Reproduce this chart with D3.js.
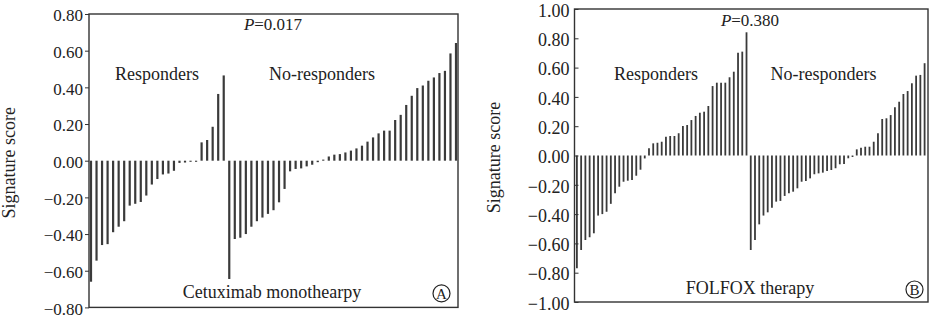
<!DOCTYPE html>
<html>
<head>
<meta charset="utf-8">
<script src="https://cdn.jsdelivr.net/npm/d3@7/dist/d3.min.js"></script>
<style>
    body { margin: 0; background: #fff; }
    svg { display: block; }
    text { font-family: "Liberation Serif", "Times New Roman", serif; fill: #222; }
</style>
</head>
<body>
<div id="chart"></div>
<script>
// panel A: cetuximab monotherapy
const respondersA = [-0.66, -0.545, -0.46, -0.455, -0.39, -0.36, -0.33, -0.245, -0.235, -0.225,
    -0.19, -0.13, -0.10, -0.075, -0.07, -0.055, -0.012, -0.010, -0.006, -0.006,
    0.10, 0.113, 0.185, 0.364, 0.465];
const nonRespondersA = [-0.645, -0.427, -0.42, -0.40, -0.36, -0.33, -0.31, -0.29, -0.27, -0.227,
    -0.154, -0.058, -0.045, -0.042, -0.031, -0.022, -0.008, 0.006,
    0.023, 0.033, 0.036, 0.045, 0.055, 0.067, 0.082, 0.104, 0.127, 0.149,
    0.164, 0.164, 0.222, 0.25, 0.304, 0.354, 0.396, 0.41, 0.436, 0.454,
    0.478, 0.49, 0.585, 0.642];
const ticksA = [-0.8, -0.6, -0.4, -0.2, 0, 0.2, 0.4, 0.6, 0.8];

// panel B: FOLFOX
const respondersB = [-0.77, -0.645, -0.577, -0.558, -0.531, -0.41, -0.40, -0.384, -0.33, -0.258,
    -0.213, -0.179, -0.172, -0.167, -0.138, -0.097, -0.02,
    0.049, 0.083, 0.087, 0.094, 0.128, 0.133, 0.133, 0.152, 0.201, 0.208,
    0.242, 0.27, 0.292, 0.299, 0.338, 0.474, 0.497, 0.497, 0.497, 0.534,
    0.572, 0.702, 0.709, 0.841];
const nonRespondersB = [-0.645, -0.577, -0.47, -0.41, -0.388, -0.356, -0.315, -0.31, -0.276, -0.258,
    -0.247, -0.224, -0.179, -0.174, -0.156, -0.128, -0.122, -0.117, -0.106, -0.099,
    -0.087, -0.06, -0.058, -0.019, -0.01,
    0.042, 0.053, 0.06, 0.06, 0.094, 0.152, 0.249, 0.254, 0.276, 0.329,
    0.367, 0.42, 0.44, 0.493, 0.545, 0.55, 0.63];
const ticksB = [-1, -0.8, -0.6, -0.4, -0.2, 0, 0.2, 0.4, 0.6, 0.8, 1];

class WaterfallPanel {
    constructor(svg, configs = {}) {
        let defaultConfig = {
            left: 0, top: 0, width: 300, height: 290,
            padLeft: 2, padRight: 2,
            barWidth: 2,
            tickSize: 4,
            fontSize: 17,
            groupY: 66
        };
        this.config = Object.assign({}, defaultConfig, configs);
        this.svg = svg;
        this.draw();
    }

    generateRange() {
        let c = this.config;
        this.values = c.responders.concat(c.nonResponders);
        this.xRange = d3.scalePoint()
            .domain(d3.range(this.values.length))
            .range([c.padLeft, c.width - c.padRight]);
        this.yRange = d3.scaleLinear()
            .domain(d3.extent(c.ticks))
            .range([c.height, 0]);
    }

    generateContainer() {
        let c = this.config;
        this.element = this.svg.append("g")
            .attr("transform", "translate(" + c.left + "," + c.top + ")");
    }

    drawAxis() {
        let c = this.config;
        let axis = this.element.append("g")
            .call(d3.axisLeft(this.yRange)
                .tickValues(c.ticks)
                .tickFormat(d3.format(".2f"))
                .tickSize(c.tickSize)
                .tickSizeOuter(0)
                .tickPadding(c.tickSize > 0 ? 2 : 5));
        axis.select(".domain").remove();
        axis.selectAll("line").attr("stroke", "#333");
        axis.selectAll("text")
            .attr("font-family", "Liberation Serif, Times New Roman, serif")
            .attr("font-size", c.fontSize)
            .attr("fill", "#222")
            .attr("dy", "0.4em");

        this.element.append("rect")
            .attr("width", c.width)
            .attr("height", c.height)
            .attr("fill", "none")
            .attr("stroke", "#333")
            .attr("stroke-width", 1.4);

        this.element.append("text")
            .attr("transform", "translate(" + c.titleX + "," + (c.height / 2 + 2) + ") rotate(-90)")
            .attr("text-anchor", "middle")
            .attr("font-size", 18)
            .text("Signature score");
    }

    drawBars() {
        let c = this.config;
        let y0 = this.yRange(0);
        this.element.append("g")
            .selectAll("line")
            .data(this.values)
            .enter()
            .append("line")
            .attr("x1", (d, i) => this.xRange(i))
            .attr("x2", (d, i) => this.xRange(i))
            .attr("y1", y0)
            .attr("y2", d => this.yRange(d))
            .attr("stroke", "#3a3a3a")
            .attr("stroke-width", c.barWidth);
    }

    drawLabels() {
        let c = this.config;
        let g = this.element;
        let pText = g.append("text")
            .attr("x", c.pX)
            .attr("y", c.pY)
            .attr("text-anchor", "middle")
            .attr("font-size", 17);
        pText.append("tspan").attr("font-style", "italic").text("P");
        pText.append("tspan").text("=" + c.pValue);

        g.append("text")
            .attr("x", c.respX)
            .attr("y", c.groupY)
            .attr("text-anchor", "middle")
            .attr("font-size", 18)
            .text("Responders");

        g.append("text")
            .attr("x", c.nonX)
            .attr("y", c.groupY)
            .attr("text-anchor", "middle")
            .attr("font-size", 18)
            .text("No-responders");

        g.append("text")
            .attr("x", c.therapyX)
            .attr("y", c.height - c.therapyOffset)
            .attr("text-anchor", "middle")
            .attr("font-size", 18)
            .text(c.therapy);

        let badge = g.append("g")
            .attr("transform", "translate(" + (c.width - c.badgeRight) + "," + (c.height - c.badgeBottom) + ")");
        badge.append("circle")
            .attr("r", 8.5)
            .attr("fill", "none")
            .attr("stroke", "#222")
            .attr("stroke-width", 1.2);
        badge.append("text")
            .attr("text-anchor", "middle")
            .attr("dy", "0.36em")
            .attr("font-size", 15)
            .text(c.badge);
    }

    draw() {
        this.generateContainer();
        this.generateRange();
        this.drawBars();
        this.drawAxis();
        this.drawLabels();
    }
}

const svg = d3.select("#chart").append("svg")
    .attr("width", 936)
    .attr("height", 319);

new WaterfallPanel(svg, {
    left: 89, top: 14, width: 369, height: 293.4,
    padLeft: 2, padRight: 2, barWidth: 2.2,
    tickSize: 4, fontSize: 17,
    responders: respondersA, nonResponders: nonRespondersA, ticks: ticksA,
    titleX: -74, groupY: 66,
    pValue: "0.017", pX: 184, pY: 16,
    respX: 68, nonX: 233,
    therapy: "Cetuximab monothearpy", therapyX: 183, therapyOffset: 9.5,
    badge: "A", badgeRight: 16.5, badgeBottom: 14
});

new WaterfallPanel(svg, {
    left: 574.5, top: 9, width: 353.5, height: 293,
    padLeft: 2.4, padRight: 3.4, barWidth: 1.8,
    tickSize: -4, fontSize: 18,
    responders: respondersB, nonResponders: nonRespondersB, ticks: ticksB,
    titleX: -75, groupY: 71,
    pValue: "0.380", pX: 175.5, pY: 17,
    respX: 81.5, nonX: 249,
    therapy: "FOLFOX therapy", therapyX: 175.5, therapyOffset: 8,
    badge: "B", badgeRight: 13.5, badgeBottom: 12.5
});
</script>
</body>
</html>
